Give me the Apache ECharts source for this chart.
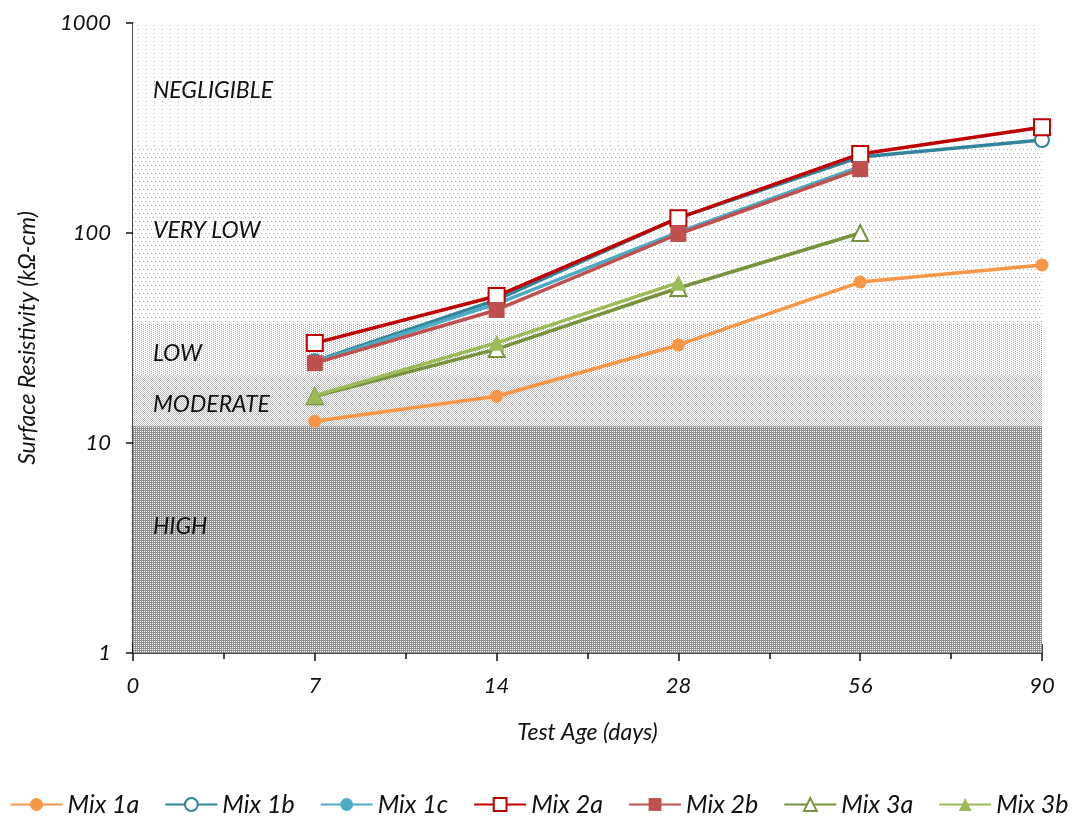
<!DOCTYPE html>
<html><head><meta charset="utf-8">
<script src="https://cdn.jsdelivr.net/npm/echarts@6/dist/echarts.min.js"></script>
<style>html,body{margin:0;padding:0;background:#fff}#c{width:1078px;height:826px}</style>
</head><body><div id="c"></div>
<script>
const ageLabels = ['0','7','14','28','56','90'];
const mix1a = [12.7, 16.7, 29.3, 58.4, 70.4];
const mix1b = [24.5, 48, 118, 230, 277];
const mix1c = [24.3, 46, 101, 207];
const mix2a = [29.9, 50.1, 117.6, 238, 319];
const mix2b = [24.0, 43, 98.9, 201.6];
const mix3a = [16.7, 28, 54.7, 100];
const mix3b = [16.8, 30, 58];
const bandNames = ['NEGLIGIBLE','VERY LOW','LOW','MODERATE','HIGH'];
const bandLow  = [254, 37, 21, 12, 1];
const bandHigh = [1000, 254, 37, 21, 12];

function pat(w,h,bg,fg,px){
  const c=document.createElement('canvas');c.width=w;c.height=h;
  const x=c.getContext('2d');x.fillStyle=bg;x.fillRect(0,0,w,h);x.fillStyle=fg;
  px.forEach(p=>x.fillRect(p[0],p[1],1,1));return c;
}
const patterns = [
  pat(8,4,'#ffffff','#b4b4b4',[[2,1]]),
  pat(4,8,'#ffffff','#b0b0b0',[[1,1],[3,5]]),
  pat(4,2,'#ffffff','#a8a8a8',[[1,0],[3,1]]),
  pat(2,2,'#ffffff','#b8b8b8',[[0,0],[1,1]]),
  pat(2,2,'#ffffff','#909090',[[0,0],[1,1],[1,0]])
];
const labelOffsets = [[0,5],[0,-5],[0,4],[0,4],[0,-13]];

const FONT = 'Lato';
const toPts = arr => arr.map((v,i)=>[i+1, v]);

const colors = ['#F79646','#31849B','#4BACC6','#C00000','#C0504D','#77933C','#9BBB59'];
const names = ['Mix 1a','Mix 1b','Mix 1c','Mix 2a','Mix 2b','Mix 3a','Mix 3b'];
const datas = [mix1a,mix1b,mix1c,mix2a,mix2b,mix3a,mix3b];
const symbols = ['circle','emptyCircle','circle','emptyRect','rect','emptyTriangle','triangle'];
const sizes = [13,14,13,16,16,16,16];

const series = names.map((n,i)=>({
  name:n, type:'line', xAxisIndex:0, yAxisIndex:0, data:toPts(datas[i]),
  symbol:symbols[i], symbolSize:sizes[i], showAllSymbol:true,
  lineStyle:{color:colors[i], width:3.5},
  itemStyle:{color:colors[i], borderColor:colors[i], borderWidth: symbols[i].startsWith('empty')?3:0},
  z: 3+i
}));
series.unshift({
  name:'bands', type:'line', data:[], z:1, silent:true,
  markArea:{silent:true, data: bandNames.map((b,i)=>[
    {yAxis:bandLow[i], name:b, itemStyle:{color:{image:patterns[i], repeat:'repeat'}},
     label:{show:true, position:'insideLeft', distance:20, offset:labelOffsets[i], fontFamily:FONT, fontStyle:'italic', fontSize:23, color:'#111'}},
    {yAxis:bandHigh[i]}
  ])}
});

const chart = echarts.init(document.getElementById('c'), null, {renderer:'canvas'});
chart.setOption({
  animation:false,
  grid:{left:133, right:36, top:23, bottom:173},
  legend:{data:names, bottom:4, left:'center', itemWidth:52, itemHeight:16, itemGap:25,
    textStyle:{fontFamily:FONT, fontStyle:'italic', fontSize:25, color:'#111'}},
  xAxis:[{type:'value', min:0, max:5, interval:1, position:'bottom',
    name:'Test Age (days)', nameLocation:'middle', nameGap:68,
    nameTextStyle:{fontFamily:FONT, fontStyle:'italic', fontSize:23, color:'#111'},
    axisLine:{lineStyle:{color:'#111', width:1.5}},
    axisTick:{show:true, inside:false, length:8, lineStyle:{color:'#111', width:1.5}},
    minorTick:{show:true, splitNumber:2, length:6, lineStyle:{color:'#111', width:1.5}},
    splitLine:{show:false},
    axisLabel:{margin:22, fontFamily:FONT, fontStyle:'italic', fontSize:22, color:'#111',
      formatter:v=>ageLabels[Math.round(v)]}},
   {type:'value', min:0, max:5, interval:1, position:'bottom',
    axisLine:{show:false}, axisLabel:{show:false}, splitLine:{show:false},
    axisTick:{show:true, inside:true, length:9, lineStyle:{color:'#111', width:1.5}}}],
  yAxis:{type:'log', logBase:10, min:1, max:1000,
    name:'Surface Resistivity (kΩ-cm)', nameLocation:'middle', nameGap:94,
    nameTextStyle:{fontFamily:FONT, fontStyle:'italic', fontSize:23, color:'#111'},
    axisLine:{show:true, lineStyle:{color:'#111', width:1.5}},
    axisTick:{show:true, length:7, lineStyle:{color:'#111', width:1.5}},
    splitLine:{show:false},
    axisLabel:{margin:22, fontFamily:FONT, fontStyle:'italic', fontSize:22, color:'#111',
      formatter:v=>String(Math.round(v))}},
  series: series
});
</script></body></html>
